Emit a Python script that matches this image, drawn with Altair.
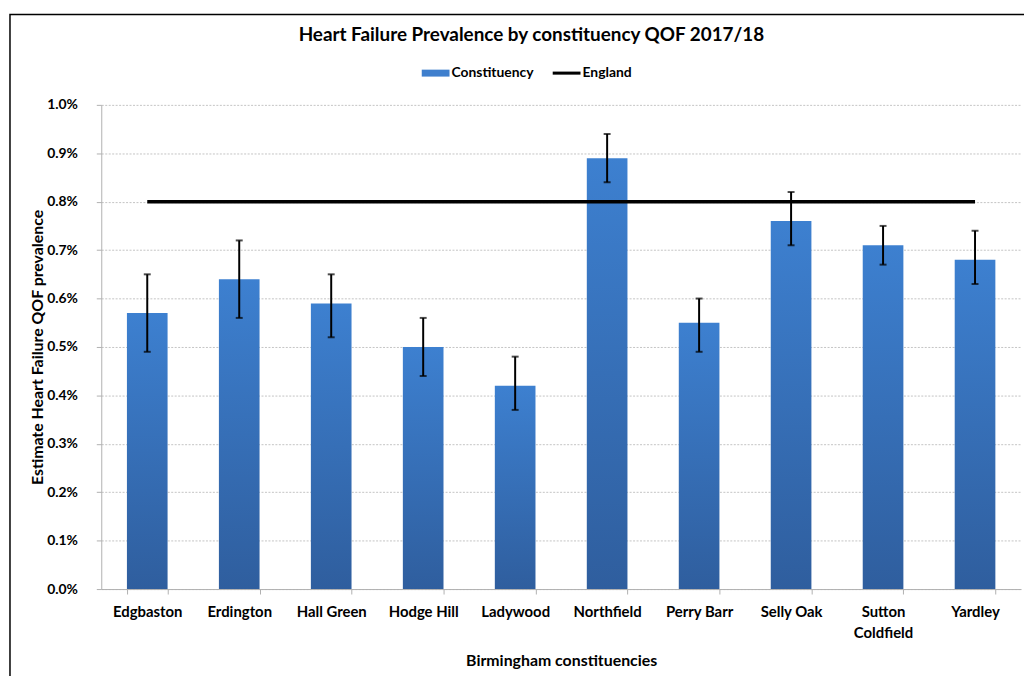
import altair as alt
import pandas as pd

constituencies = ["Edgbaston", "Erdington", "Hall Green", "Hodge Hill", "Ladywood",
                  "Northfield", "Perry Barr", "Selly Oak", "Sutton Coldfield", "Yardley"]
prevalence = [0.57, 0.64, 0.59, 0.50, 0.42, 0.89, 0.55, 0.76, 0.71, 0.68]
ci_low = [0.49, 0.56, 0.52, 0.44, 0.37, 0.84, 0.49, 0.71, 0.67, 0.63]
ci_high = [0.65, 0.72, 0.65, 0.56, 0.48, 0.94, 0.60, 0.82, 0.75, 0.74]
england_value = 0.80
series_names = ["Constituency", "England"]
y_ticks = [0.0, 0.1, 0.2, 0.3, 0.4, 0.5, 0.6, 0.7, 0.8, 0.9, 1.0]

df = pd.DataFrame({
    "constituency": constituencies,
    "prevalence": prevalence,
    "low": ci_low,
    "high": ci_high,
    "england": [england_value] * len(constituencies),
})
legend_df = pd.DataFrame({"series": series_names})

FONT = "Lato"
BLUE_TOP = "#3D80D0"
BLUE_BOTTOM = "#2F5E9E"

x_axis = alt.Axis(
    title="Birmingham constituencies",
    labelAngle=0,
    labelExpr="datum.label == 'Sutton Coldfield' ? ['Sutton', 'Coldfield'] : datum.label",
    labelLineHeight=21,
    labelPadding=11,
    labelFontSize=15,
    tickBand="extent",
    tickSize=5,
    titlePadding=12,
    titleFontSize=16,
    grid=False,
)
x_scale = alt.Scale(paddingInner=0.558, paddingOuter=0.279)
y_axis = alt.Axis(
    title="Estimate Heart Failure QOF prevalence",
    values=y_ticks,
    labelExpr="format(datum.value, '.1f') + '%'",
    tickSize=5,
    labelPadding=19,
    titlePadding=1,
    titleFontSize=16,
    grid=True,
    gridDash=[2, 1.5],
    gridColor="#c4c4c4",
)
y_scale = alt.Scale(domain=[0, 1.0], nice=False, zero=True)


def xe():
    return alt.X("constituency:N", sort=constituencies, scale=x_scale, axis=x_axis)


def ye(field):
    return alt.Y(field, scale=y_scale, axis=y_axis)


bars = alt.Chart(df).mark_bar(
    color=alt.Gradient(
        gradient="linear",
        stops=[alt.GradientStop(color=BLUE_TOP, offset=0),
               alt.GradientStop(color=BLUE_BOTTOM, offset=1)],
        x1=0, x2=0, y1=0, y2=1,
    )
).encode(x=xe(), y=ye("prevalence:Q"))

england_line = alt.Chart(df).mark_line(color="black", strokeWidth=3.5).encode(
    x=xe(), y=ye("england:Q"),
)

err_rule = alt.Chart(df).mark_rule(color="black", strokeWidth=2).encode(
    x=xe(), y=ye("low:Q"), y2="high:Q",
)
cap_low = alt.Chart(df).mark_tick(color="black", size=7, thickness=2, orient="horizontal").encode(
    x=xe(), y=ye("low:Q"),
)
cap_high = alt.Chart(df).mark_tick(color="black", size=7, thickness=2, orient="horizontal").encode(
    x=xe(), y=ye("high:Q"),
)

legend_kw = dict(
    title=None,
    orient="none",
    legendX=323,
    legendY=-46,
    direction="horizontal",
    labelFont=FONT,
    labelFontSize=14,
    labelFontWeight="bold",
    labelColor="black",
    labelOffset=2,
    columnPadding=19,
    symbolSize=784,
    symbolStrokeWidth=0,
    symbolOpacity=1,
)
legend_pts = alt.Chart(legend_df).mark_point(filled=True, opacity=0, size=784).encode(
    color=alt.Color("series:N", scale=alt.Scale(domain=series_names, range=["#3F7FCD", "#000000"]),
                    legend=alt.Legend(**legend_kw)),
    shape=alt.Shape("series:N", scale=alt.Scale(domain=series_names,
                    range=["M-1,-0.25H1V0.25H-1Z", "M-1,-0.11H1V0.11H-1Z"]),
                    legend=alt.Legend(**legend_kw)),
)

frame = alt.Chart(alt.Data(values=[{}])).mark_rect(
    fill="white", fillOpacity=0, stroke="black", strokeWidth=1.5, clip=False
).encode(
    x=alt.value(-92), x2=alt.value(940), y=alt.value(-91), y2=alt.value(600)
)

chart = alt.layer(bars, england_line, err_rule, cap_low, cap_high, legend_pts, frame).properties(
    width=927,
    height=488,
    background="white",
    autosize=alt.AutoSizeParams(type="none"),
    padding={"left": 94, "top": 95, "right": 3, "bottom": 85},
    title=alt.TitleParams(
        "Heart Failure Prevalence  by constituency QOF 2017/18",
        font=FONT, fontSize=19, fontWeight="bold", color="black",
        anchor="middle", dx=-30, offset=-31,
    ),
).configure_view(stroke=None).configure_axis(
    labelFont=FONT, labelFontSize=14, labelFontWeight="bold", labelColor="black",
    titleFont=FONT, titleFontSize=14, titleFontWeight="bold", titleColor="black",
    domainColor="#b0b0b0", tickColor="#b0b0b0", domainWidth=1,
)

chart.save("out.html", embed_options={"renderer": "svg", "actions": False})
